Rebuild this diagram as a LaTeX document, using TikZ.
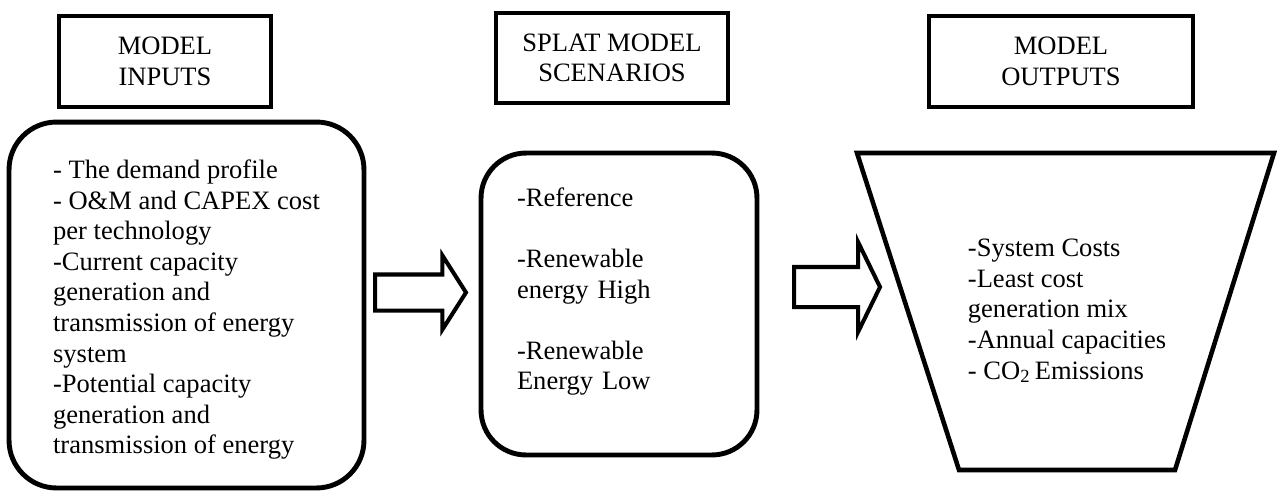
\documentclass[tikz,border=0pt]{standalone}
\usepackage{fontspec}
\setmainfont{Liberation Serif}
\usetikzlibrary{shapes.arrows}
\tikzstyle{heading} = [rectangle, draw=black, line width=2.3pt, align=center, inner sep=0pt]
\tikzstyle{panel} = [rectangle, rounded corners=0.95cm, draw=black, line width=2.8pt, align=left, inner sep=0pt]
\tikzstyle{funnel} = [draw=black, line width=2.6pt, line join=miter]
\tikzstyle{blockarrow} = [single arrow, draw=black, line width=2.3pt, inner xsep=0pt, anchor=tail]

\begin{document}
\begin{tikzpicture}[x=0.02cm, y=-0.02cm, font=\fontsize{15.1}{17.4}\selectfont]
    \useasboundingbox (0,0) rectangle (1277,491);

    % headings
    \node (inhead) [heading, minimum width=4.24cm, minimum height=1.82cm] at (165,61.5) {MODEL\\INPUTS};
    \node (scenhead) [heading, minimum width=4.64cm, minimum height=1.8cm] at (612,58) {SPLAT MODEL\\SCENARIOS};
    \node (outhead) [heading, minimum width=5.28cm, minimum height=1.82cm] at (1061,61.5) {MODEL\\OUTPUTS};

    % main blocks
    \node (inputs) [panel, minimum width=7.1cm, minimum height=7.32cm] at (186.5,305)
        {\rule{0pt}{16pt}- The demand profile\\
         - O\&M and CAPEX cost\\
         per technology\\
         -Current capacity\\
         generation and\\
         transmission of energy\\
         system\\
         -Potential capacity\\
         generation and\\
         transmission of energy};
    \node (scen) [panel, rounded corners=0.9cm, text width=4.08cm, inner xsep=0.72cm, minimum height=6.04cm] at (619,304)
        {-Reference\\[17.4pt]
         -Renewable\\
         energy High\\[17.4pt]
         -Renewable\\
         Energy Low\\
         \mbox{}};

    % output funnel
    \coordinate (ftl) at (857,153);
    \coordinate (ftr) at (1274,153);
    \coordinate (fbr) at (1175,470);
    \coordinate (fbl) at (959,470);
    \draw [funnel] (ftl) -- (ftr) -- (fbr) -- (fbl) -- cycle;
    \node (outputs) [align=left] at (1067,311)
        {-System Costs\\
         -Least cost\\
         generation mix\\
         -Annual capacities\\
         - CO\textsubscript{2}\,Emissions};

    % arrows between blocks
    \node (arrowA) [blockarrow, inner ysep=0.32cm, minimum height=1.82cm, single arrow head extend=0.38cm, single arrow tip angle=115] at (373,292.5) {};
    \node (arrowB) [blockarrow, inner ysep=0.36cm, minimum height=1.72cm, single arrow head extend=0.5cm, single arrow tip angle=128] at (792,287) {};
\end{tikzpicture}
\end{document}
